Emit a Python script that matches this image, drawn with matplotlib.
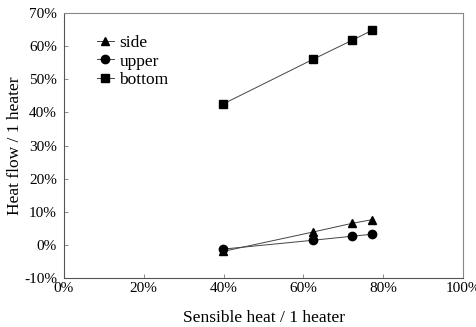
import numpy as np
import matplotlib.pyplot as plt
from matplotlib.ticker import PercentFormatter

plt.rcParams['font.family'] = ['Liberation Serif', 'DejaVu Serif']
plt.rcParams['axes.unicode_minus'] = False

# sensible heat per heater (%)
x = [39.8, 62.5, 72.2, 77.2]
side = [-2.0, 3.9, 6.5, 7.6]
upper = [-1.3, 1.4, 2.6, 3.2]
bottom = [42.5, 56.1, 61.8, 64.8]

fig = plt.figure(figsize=(4.77, 3.27), dpi=100)
ax = fig.add_axes([0.134, 0.150, 0.837, 0.810])

line_kw = dict(color='#444444', linewidth=0.7, markersize=6,
               markerfacecolor='black', markeredgecolor='black')
ax.plot(x, side, marker='^', label='side', **line_kw)
ax.plot(x, upper, marker='o', label='upper', **line_kw)
ax.plot(x, bottom, marker='s', label='bottom', **line_kw)

ax.set_xlim(0, 100)
ax.set_ylim(-10, 70)
ax.set_xticks(np.arange(0, 101, 20))
ax.set_yticks(np.arange(-10, 71, 10))
ax.xaxis.set_major_formatter(PercentFormatter(decimals=0))
ax.yaxis.set_major_formatter(PercentFormatter(decimals=0))
ax.tick_params(direction='in', length=3, width=0.6, color='#777777', labelsize=11)
ax.tick_params(axis='x', pad=3)
ax.tick_params(axis='y', pad=5)

for s in ['left', 'bottom']:
    ax.spines[s].set_color('#555555')
    ax.spines[s].set_linewidth(0.8)
for s in ['top', 'right']:
    ax.spines[s].set_color('#888888')
    ax.spines[s].set_linewidth(0.8)

ax.set_xlabel('Sensible heat / 1 heater', fontsize=12.5, labelpad=11)
ax.set_ylabel('Heat flow / 1 heater', fontsize=12.5, labelpad=1)

ax.legend(loc='upper left', bbox_to_anchor=(0.065, 0.945), frameon=False,
          fontsize=12.5, handlelength=1.0, handletextpad=0.3, labelspacing=0.15,
          borderaxespad=0)

fig.savefig('out.png', dpi=100)
